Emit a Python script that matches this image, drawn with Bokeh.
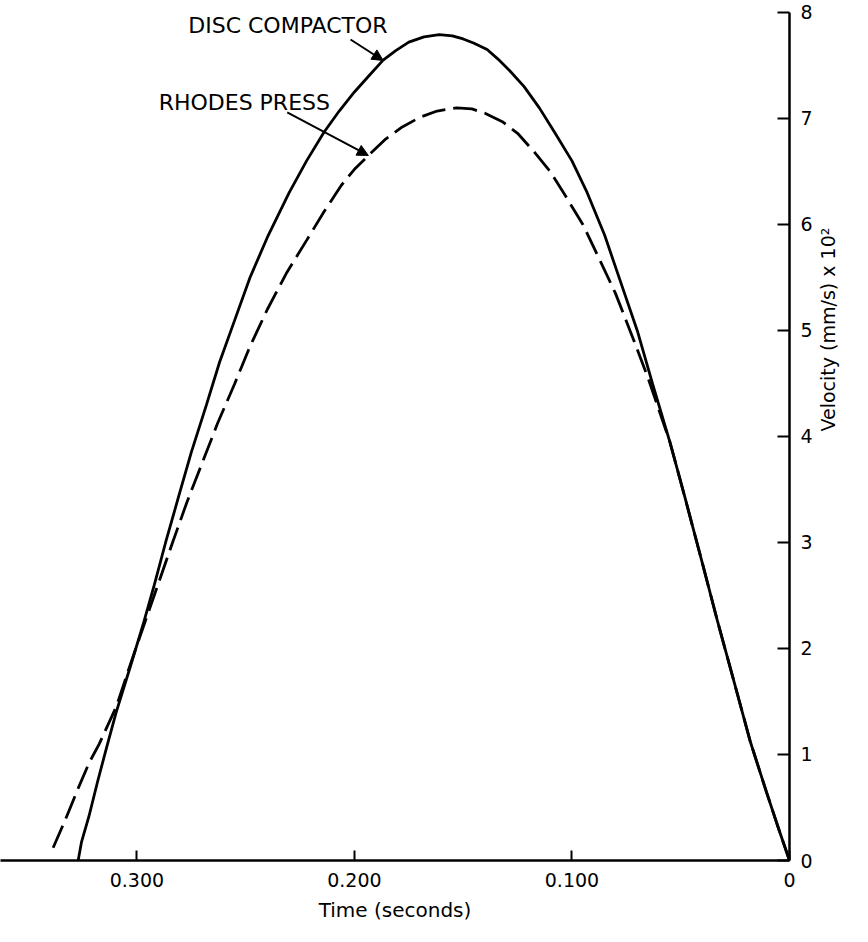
import math
from bokeh.plotting import figure
from bokeh.models import Range1d, LinearAxis, FixedTicker, NumeralTickFormatter, Arrow, NormalHead, Label
from bokeh.embed import file_html
from bokeh.resources import INLINE

# Time (seconds), velocity (mm/s x 10^2)
disc_t = [0.327, 0.3255, 0.322, 0.318, 0.314, 0.3095, 0.303, 0.2968, 0.292, 0.2868, 0.281, 0.275,
          0.268, 0.262, 0.255, 0.248, 0.240, 0.230, 0.222, 0.214, 0.207, 0.200, 0.193, 0.1868,
          0.181, 0.175, 0.168, 0.161, 0.155, 0.150, 0.145, 0.139, 0.134, 0.1286, 0.122, 0.115,
          0.108, 0.100, 0.093, 0.085, 0.078, 0.070, 0.063, 0.055, 0.048, 0.040, 0.033, 0.025,
          0.018, 0.0105, 0.005, 0.0]
disc_v = [0.0, 0.17, 0.42, 0.75, 1.06, 1.40, 1.83, 2.25, 2.60, 3.0, 3.42, 3.85,
          4.30, 4.70, 5.10, 5.50, 5.88, 6.30, 6.60, 6.87, 7.07, 7.25, 7.41, 7.55,
          7.64, 7.72, 7.77, 7.79, 7.78, 7.75, 7.71, 7.65, 7.56, 7.45, 7.30, 7.10,
          6.87, 6.60, 6.30, 5.90, 5.48, 5.00, 4.50, 3.95, 3.42, 2.80, 2.25, 1.65,
          1.12, 0.64, 0.30, 0.0]

rhodes_t = [0.3385, 0.333, 0.327, 0.322, 0.3173, 0.3095, 0.303, 0.2968, 0.290, 0.2836, 0.277,
            0.270, 0.263, 0.255, 0.248, 0.240, 0.231, 0.222, 0.214, 0.206, 0.200, 0.1936,
            0.186, 0.178, 0.170, 0.162, 0.153, 0.146, 0.140, 0.132, 0.125, 0.118, 0.110,
            0.103, 0.095, 0.088, 0.080, 0.072, 0.065, 0.060, 0.055, 0.048, 0.040, 0.033,
            0.025, 0.018, 0.0105, 0.005, 0.0]
rhodes_v = [0.12, 0.38, 0.68, 0.92, 1.10, 1.45, 1.85, 2.22, 2.62, 3.0, 3.38,
            3.75, 4.12, 4.50, 4.85, 5.20, 5.55, 5.85, 6.12, 6.37, 6.52, 6.65,
            6.80, 6.92, 7.01, 7.07, 7.10, 7.09, 7.05, 6.97, 6.86, 6.70, 6.50,
            6.27, 6.00, 5.70, 5.35, 4.93, 4.55, 4.25, 3.95, 3.42, 2.80, 2.25,
            1.65, 1.12, 0.64, 0.30, 0.0]

x_ticks = [0.3, 0.2, 0.1, 0.0]
y_ticks = [0, 1, 2, 3, 4, 5, 6, 7, 8]

FONT = "DejaVu Sans"

p = figure(width=852, height=926, output_backend="svg", toolbar_location=None,
           x_range=Range1d(0.3627, 0.0), y_range=Range1d(0.0, 8.094),
           x_axis_location=None, y_axis_location=None,
           min_border_left=0, min_border_top=2, min_border_right=54, min_border_bottom=66)
p.outline_line_color = None
p.xgrid.visible = False
p.ygrid.visible = False
p.background_fill_color = "white"

xa = LinearAxis()
xa.ticker = FixedTicker(ticks=x_ticks)
xa.formatter = NumeralTickFormatter(format="0.000")
xa.major_label_overrides = {0: "0"}
xa.major_tick_in = 10
xa.major_tick_out = 0
xa.minor_tick_in = 0
xa.minor_tick_out = 0
xa.axis_line_width = 2.5
xa.axis_line_color = "black"
xa.major_tick_line_width = 2
xa.major_tick_line_color = "black"
xa.major_label_text_font = FONT
xa.major_label_text_font_size = "19px"
xa.major_label_text_color = "black"
xa.major_label_standoff = 12
p.add_layout(xa, "below")

# x-axis title carrier, centred a little right of the frame centre as in the reference
xt = LinearAxis(axis_label="Time (seconds)", bounds=(0.0, 0.34))
xt.ticker = FixedTicker(ticks=[])
xt.axis_line_color = None
xt.major_tick_in = 0
xt.major_tick_out = 0
xt.minor_tick_in = 0
xt.minor_tick_out = 0
xt.major_label_standoff = 0
xt.axis_label_text_font = FONT
xt.axis_label_text_font_size = "20px"
xt.axis_label_text_font_style = "normal"
xt.axis_label_text_color = "black"
xt.axis_label_standoff = 8
p.add_layout(xt, "below")

ya = LinearAxis(bounds=(0, 8))
ya.ticker = FixedTicker(ticks=y_ticks)
ya.major_tick_in = 12
ya.major_tick_out = 0
ya.minor_tick_in = 0
ya.minor_tick_out = 0
ya.axis_line_width = 2.5
ya.axis_line_color = "black"
ya.major_tick_line_width = 2
ya.major_tick_line_color = "black"
ya.major_label_text_font = FONT
ya.major_label_text_font_size = "19px"
ya.major_label_text_color = "black"
ya.major_label_standoff = 11
p.add_layout(ya, "right")

# y-axis title carrier (no line, no ticks), centred along the upper part of the axis
yt = LinearAxis(axis_label="Velocity (mm/s)  x 10\u00b2", bounds=(1, 8))
yt.ticker = FixedTicker(ticks=[])
yt.axis_line_color = None
yt.major_tick_in = 0
yt.major_tick_out = 0
yt.minor_tick_in = 0
yt.minor_tick_out = 0
yt.major_label_standoff = 0
yt.axis_label_text_font = FONT
yt.axis_label_text_font_size = "19px"
yt.axis_label_text_font_style = "normal"
yt.axis_label_text_color = "black"
yt.axis_label_standoff = 12
try:
    yt.axis_label_orientation = math.pi / 2
except Exception:
    pass
p.add_layout(yt, "right")

p.line(disc_t, disc_v, line_color="black", line_width=2.8)
p.line(rhodes_t, rhodes_v, line_color="black", line_width=2.8, line_dash="24 8")

# annotation labels and arrows
p.add_layout(Label(x=0.2764, y=7.88, text="DISC COMPACTOR", text_font=FONT, text_font_size="22px",
                   text_baseline="middle", text_align="left", text_color="black"))
p.add_layout(Label(x=0.290, y=7.15, text="RHODES PRESS", text_font=FONT, text_font_size="22px",
                   text_baseline="middle", text_align="left", text_color="black"))

arrow_start_t = [0.2018, 0.2309]
arrow_start_v = [7.745, 7.057]
arrow_end_t = [0.1868, 0.1936]
arrow_end_v = [7.547, 6.651]
for i in range(2):
    p.add_layout(Arrow(end=NormalHead(size=11, fill_color="black", line_color="black"),
                       x_start=arrow_start_t[i], y_start=arrow_start_v[i],
                       x_end=arrow_end_t[i], y_end=arrow_end_v[i],
                       line_color="black", line_width=2))

open("out.html", "w").write(file_html(p, INLINE))
